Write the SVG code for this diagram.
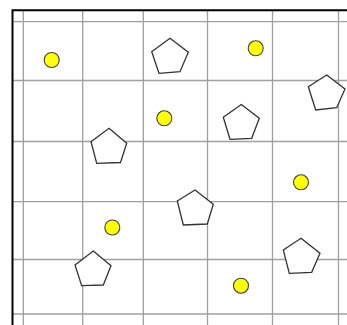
<svg xmlns="http://www.w3.org/2000/svg" width="347" height="325" viewBox="0 0 347 325">
<style>
.grid line{stroke:#a0a0a0;stroke-width:1.3}
.dot{fill:#ffff00;stroke:#404040;stroke-width:1.1}
.pent{fill:#ffffff;stroke:#333333;stroke-width:1.3;stroke-linejoin:miter}
</style>
<rect x="0" y="0" width="347" height="325" fill="#ffffff"/>
<g id="grid" class="grid">
<line x1="23.3" y1="10" x2="23.3" y2="325"/>
<line x1="82.7" y1="10" x2="82.7" y2="325"/>
<line x1="143.3" y1="10" x2="143.3" y2="325"/>
<line x1="207.5" y1="10" x2="207.5" y2="325"/>
<line x1="272.5" y1="10" x2="272.5" y2="325"/>
<line x1="338.5" y1="10" x2="338.5" y2="325"/>
<line x1="12" y1="21.7" x2="347" y2="21.7"/>
<line x1="12" y1="80.5" x2="347" y2="80.5"/>
<line x1="12" y1="141.5" x2="347" y2="141.5"/>
<line x1="12" y1="201.7" x2="347" y2="201.7"/>
<line x1="12" y1="259.5" x2="347" y2="259.5"/>
<line x1="12" y1="314" x2="347" y2="314"/>
</g>
<path id="frame" d="M12.5,325 V10.3 H347" fill="none" stroke="#000000" stroke-width="2"/>
<g id="dot1"><circle class="dot" cx="51.7" cy="60" r="7.5"/></g>
<g id="dot2"><circle class="dot" cx="255.7" cy="48.3" r="7.5"/></g>
<g id="dot3"><circle class="dot" cx="164.3" cy="118.3" r="7.5"/></g>
<g id="dot4"><circle class="dot" cx="301" cy="182.3" r="7.5"/></g>
<g id="dot5"><circle class="dot" cx="112.3" cy="227.5" r="7.5"/></g>
<g id="dot6"><circle class="dot" cx="241" cy="285.7" r="7.5"/></g>
<g id="pent1"><polygon class="pent" points="170,38.3 188.3,52.3 180,71.7 159,73.3 151.7,51.7"/></g>
<g id="pent2"><polygon class="pent" points="326.7,75 345,89 336.7,107.7 315.7,110 308.3,86.7"/></g>
<g id="pent3"><polygon class="pent" points="109,128.3 126.7,143.3 120.5,162.5 96.7,163.3 91,141.7"/></g>
<g id="pent4"><polygon class="pent" points="241.3,104.5 259.3,118.3 251.7,138.3 230,139.3 223.3,117.3"/></g>
<g id="pent5"><polygon class="pent" points="195,190 213.3,204.3 207.3,224 183.3,225 177.3,201"/></g>
<g id="pent6"><polygon class="pent" points="93.3,251 111,265.7 103.3,285 81.7,285.7 75,265"/></g>
<g id="pent7"><polygon class="pent" points="301,238.3 320,253.3 311.7,272.3 289.3,273.3 283.3,250"/></g>
</svg>
